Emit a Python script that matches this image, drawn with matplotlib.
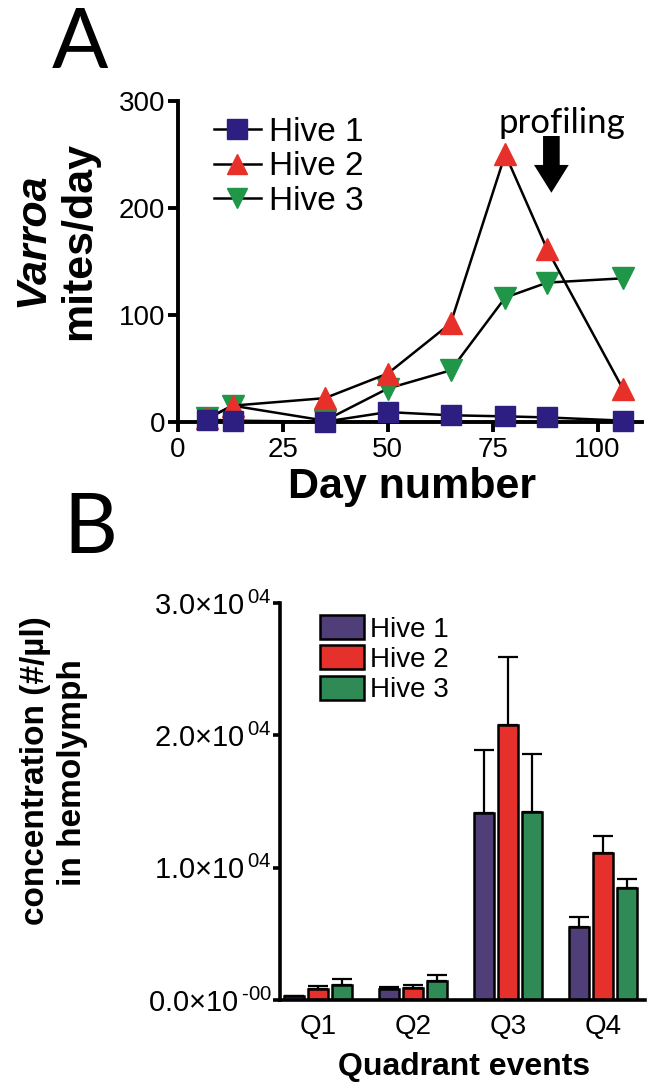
"""Varroa mite counts (A) and hemolymph particle concentration by quadrant (B)."""

import numpy as np
import matplotlib
matplotlib.use('Agg')
import matplotlib.pyplot as plt
from matplotlib.patches import Patch
from matplotlib.lines import Line2D

plt.rcParams['font.family'] = ['Liberation Sans', 'DejaVu Sans']
plt.rcParams['mathtext.fontset'] = 'custom'
plt.rcParams['mathtext.rm'] = 'Liberation Sans'
plt.rcParams['mathtext.default'] = 'regular'

W, H = 658, 1088

# --- panel A data
days = [7, 13, 35, 50, 65, 78, 88, 106]
hive1_mites = [2, 1, 0, 9, 6, 5, 4, 1]
hive2_mites = [3, 15, 22, 45, 92, 250, 161, 31]
hive3_mites = [3, 15, 1, 31, 48, 116, 130, 134]
profiling_day = 89

# --- panel B data
quadrants = ['Q1', 'Q2', 'Q3', 'Q4']
hive1_conc = [300, 820, 14100, 5490]
hive2_conc = [820, 915, 20800, 11130]
hive3_conc = [1160, 1430, 14180, 8480]
hive1_err = [0, 160, 4800, 760]
hive2_err = [250, 215, 5100, 1280]
hive3_err = [460, 430, 4420, 670]
yticks_b = [0, 10000, 20000, 30000]
ytick_labels_b = [r'$0.0{\times}10^{\,\text{-}00}$', r'$1.0{\times}10^{\,04}$',
                  r'$2.0{\times}10^{\,04}$', r'$3.0{\times}10^{\,04}$']

SQ_COL = '#2d1e82'
UP_COL = '#e8302a'
DN_COL = '#1f9648'
BAR_COLS = ['#4f3e78', '#e5302b', '#2f8a56']


def fx(px):
    return px / W


def fy(py):
    return 1 - py / H


fig = plt.figure(figsize=(W / 100, H / 100), dpi=100)

# ---------------- panel A
y0, y300 = 421.7, 100.7
ppu = (y0 - y300) / 300
ymin = -8
axA = fig.add_axes([fx(178), fy(y0 - ymin * ppu), fx(642) - fx(178),
                    fy(y300) - fy(y0 - ymin * ppu)])
axA.plot(days, hive1_mites, color='black', lw=1.8, marker='s', ms=15,
         mfc=SQ_COL, mec=SQ_COL, zorder=5, clip_on=False)
axA.plot(days, hive2_mites, color='black', lw=1.8, marker='^', ms=16,
         mfc=UP_COL, mec=UP_COL, zorder=4, clip_on=False)
axA.plot(days, hive3_mites, color='black', lw=1.8, marker='v', ms=16,
         mfc=DN_COL, mec=DN_COL, zorder=3, clip_on=False)
axA.set_xlim(0, 110.6)
axA.set_ylim(ymin, 300)
axA.spines[['top', 'right']].set_visible(False)
axA.spines['bottom'].set_position(('data', 0))
axA.spines['left'].set_bounds(0, 300)
for s in ['bottom', 'left']:
    axA.spines[s].set_linewidth(2.8)
axA.set_xticks([0, 25, 50, 75, 100])
axA.set_yticks([0, 100, 200, 300])
axA.tick_params(width=2.8, length=7, labelsize=20, pad=2)
axA.tick_params(axis='x', pad=4)

handles = [Line2D([], [], color='black', lw=1.8, marker=m, ms=15, mfc=c, mec=c)
           for m, c in [('s', SQ_COL), ('^', UP_COL), ('v', DN_COL)]]
fig.legend(handles, ['Hive 1', 'Hive 2', 'Hive 3'], loc='upper left',
           bbox_to_anchor=(fx(214), fy(117)), frameon=False, fontsize=24,
           handlelength=1.4, handletextpad=0.25, labelspacing=0.1,
           borderaxespad=0, borderpad=0)

axA.annotate('', xy=(profiling_day, 214), xytext=(profiling_day, 267),
             arrowprops=dict(arrowstyle='simple,head_width=1.25,head_length=1.0,tail_width=0.6',
                             mutation_scale=20, color='black', lw=0,
                             shrinkA=0, shrinkB=0))
axA.text(91.5, 279, 'profiling', fontsize=25, family=['Lato', 'DejaVu Sans'],
         ha='center', va='center')

fig.text(fx(80), fy(45), 'A', fontsize=60, family=['Lato', 'DejaVu Sans'],
         ha='center', va='center')
fig.text(fx(32), fy(240), 'Varroa', fontsize=31, fontweight='bold',
         fontstyle='italic', rotation=90, ha='center', va='center')
fig.text(fx(79), fy(241), 'mites/day', fontsize=31, fontweight='bold',
         rotation=90, ha='center', va='center')
fig.text(fx(412), fy(487), 'Day number', fontsize=31, fontweight='bold',
         ha='center', va='center')

# ---------------- panel B
yb0, yb3 = 1000, 603
q0_px, q_step = 318, 95
axB = fig.add_axes([fx(280), fy(yb0), fx(645) - fx(280), fy(yb3) - fy(yb0)])
x = np.arange(len(quadrants))
bw, off = 0.21, 0.25
for i, (vals, errs) in enumerate([(hive1_conc, hive1_err), (hive2_conc, hive2_err),
                                  (hive3_conc, hive3_err)]):
    axB.bar(x + (i - 1) * off, vals, width=bw, color=BAR_COLS[i],
            edgecolor='black', linewidth=1.8, zorder=2)
    axB.errorbar(x + (i - 1) * off, vals, yerr=[np.zeros(len(vals)), errs],
                 fmt='none', ecolor='black', elinewidth=1.6, capsize=7,
                 capthick=1.6, zorder=1)
axB.set_xlim((280 - q0_px) / q_step, (645 - q0_px) / q_step)
axB.set_ylim(0, 30000)
axB.spines[['top', 'right']].set_visible(False)
for s in ['bottom', 'left']:
    axB.spines[s].set_linewidth(2.6)
axB.set_xticks(x)
axB.set_xticklabels(quadrants)
axB.set_yticks(yticks_b)
axB.set_yticklabels(ytick_labels_b)
axB.tick_params(axis='y', width=2.6, length=5, labelsize=21, pad=1)
axB.tick_params(axis='x', length=0, labelsize=20, pad=10)

patches = [Patch(facecolor=c, edgecolor='black', linewidth=1.8) for c in BAR_COLS]
fig.legend(patches, ['Hive 1', 'Hive 2', 'Hive 3'], loc='upper left',
           bbox_to_anchor=(fx(320), fy(615)), frameon=False, fontsize=20,
           handlelength=1.6, handleheight=0.95, handletextpad=0.2,
           labelspacing=0.1, borderaxespad=0, borderpad=0)

fig.text(fx(90), fy(530), 'B', fontsize=60, family=['Lato', 'DejaVu Sans'],
         ha='center', va='center')
fig.text(fx(36), fy(771), 'concentration (#/µl)', fontsize=24,
         fontweight='bold', rotation=90, ha='center', va='center')
fig.text(fx(72), fy(773), 'in hemolymph', fontsize=24, fontweight='bold',
         rotation=90, ha='center', va='center')
fig.text(fx(464), fy(1067), 'Quadrant events', fontsize=23, fontweight='bold',
         ha='center', va='center')

fig.savefig('out.png', dpi=100)
